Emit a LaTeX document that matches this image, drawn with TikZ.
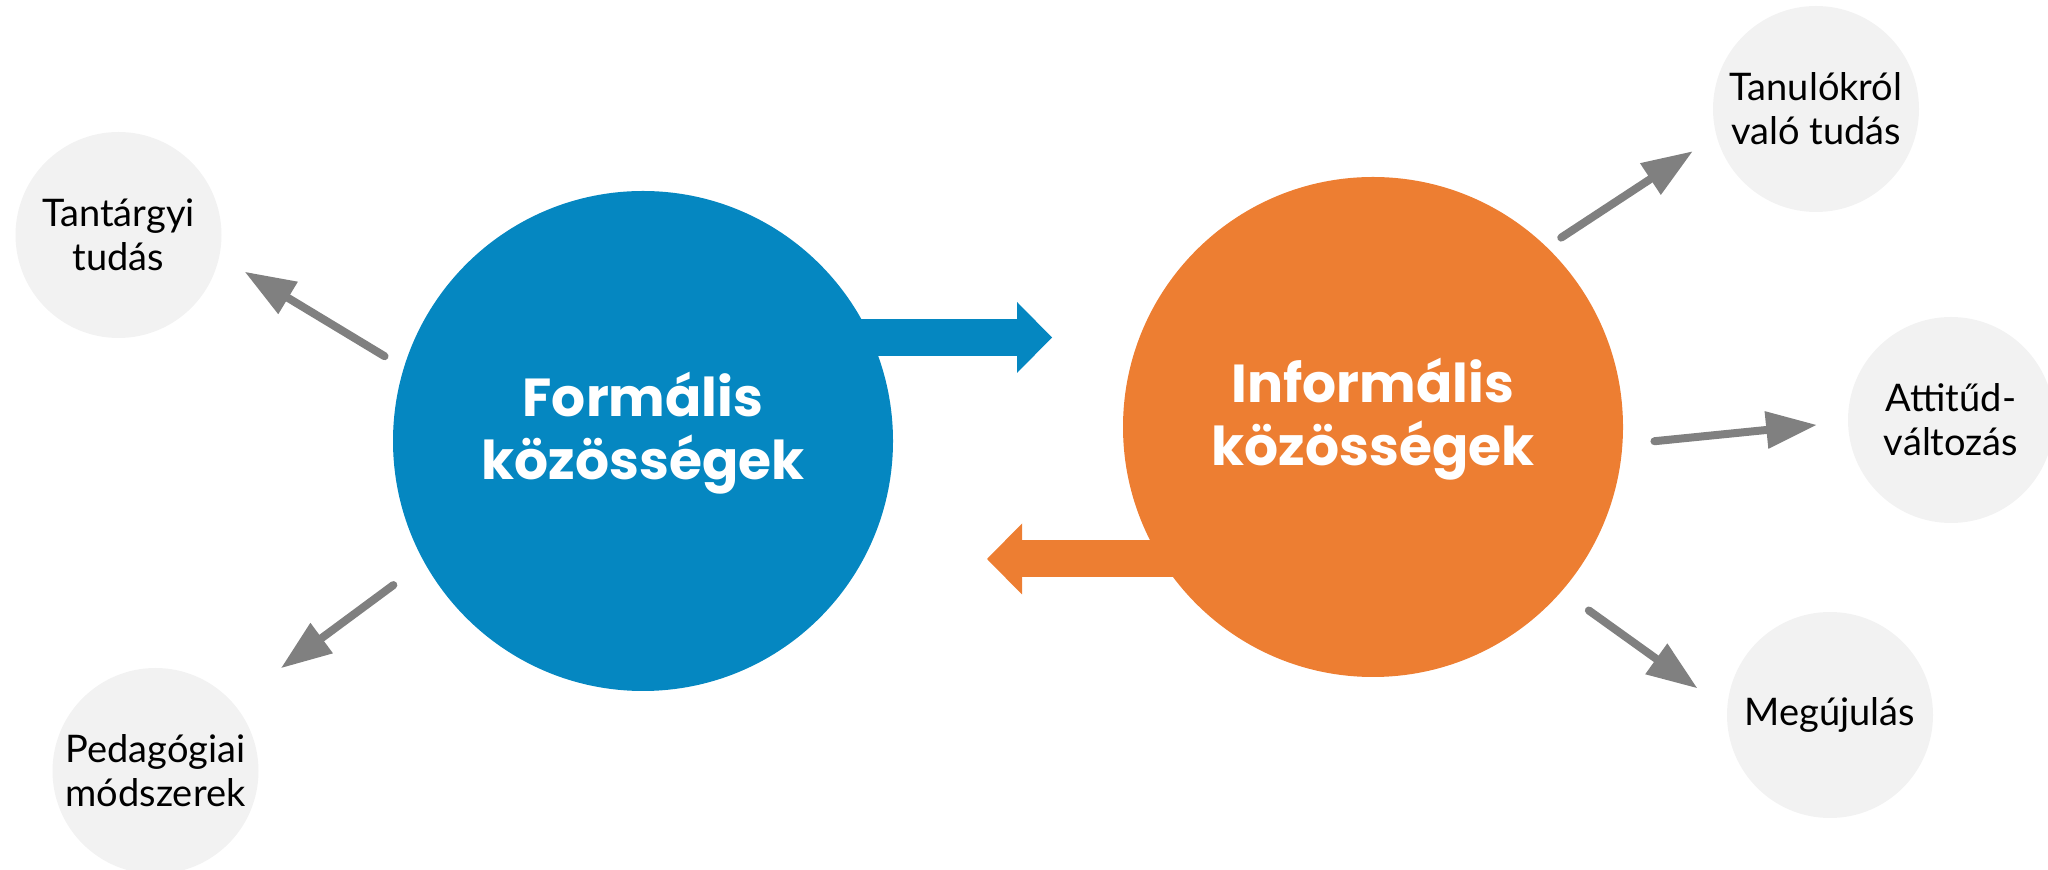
\documentclass[tikz,border=0pt]{standalone}
\usepackage{fontspec}
\setmainfont{Lato}
\newfontfamily\poppins{Poppins}
\usetikzlibrary{arrows.meta}
\definecolor{formblue}{HTML}{0587C1}
\definecolor{informorange}{HTML}{ED7E32}
\definecolor{bubblegray}{HTML}{F2F2F2}
\definecolor{spokegray}{HTML}{808080}

\begin{document}
\begin{tikzpicture}[x=1pt,y=1pt,
			hub/.style={circle,minimum size=500pt,inner sep=0pt,outer sep=0pt,text=white,align=center,
				text depth=30pt,font=\poppins\bfseries\fontsize{53.5}{63.6}\selectfont},
			bubble/.style={circle,fill=bubblegray,minimum size=206pt,inner sep=0pt,outer sep=0pt,align=center,
				font=\fontsize{38}{44}\selectfont},
			spoke/.style={draw=spokegray,line width=8pt,line cap=round,
				-{Triangle[length=50pt,width=38pt,line width=0pt]}},
			block/.style={line width=37pt,-{Triangle[length=35pt,width=71pt,line width=0pt]}}]
			\useasboundingbox (0,0) rectangle (2048,870);
			\node (formal) [hub,fill=formblue] at (643,429) {Formális\\közösségek};
			\node (informal) [hub,fill=informorange] at (1373,443) {Informális\\közösségek};
			\node (tantargy) [bubble] at (118.5,635) {Tantárgyi\\tudás};
			\node (pedmod) [bubble] at (155.5,99) {Pedagógiai\\módszerek};
			\node (tanulo) [bubble] at (1816,761) {Tanulókról\\való tudás};
			\node (attitud) [bubble] at (1951,450) {Attitűd-\\változás};
			\node (megujul) [bubble] at (1830,155) {Megújulás};
			% between the two hubs
			\coordinate (bluetip) at (1052,532.5);
			\coordinate (orangetip) at (987,311);
			\draw [block,formblue] (formal.center |- bluetip) -- (bluetip);
			\draw [block,informorange] (informal.center |- orangetip) -- (orangetip);
			% outcomes
			\draw [spoke,shorten <=22.6pt,shorten >=30.4pt] (formal.163.5) -- (tantargy.-12.4);
			\draw [spoke,shorten <=38.5pt,shorten >=60pt] (formal.209) -- (pedmod.41.5);
			\draw [spoke,shorten <=17.4pt,shorten >=29.1pt] (informal.46.65) -- (tanulo.195.9);
			\draw [spoke,shorten <=32.2pt,shorten >=32pt] (informal.-4.38) -- (attitud.181.1);
			\draw [spoke,shorten <=33.4pt,shorten >=37.2pt] (informal.-41.4) -- (megujul.177.3);
		\end{tikzpicture}
\end{document}
